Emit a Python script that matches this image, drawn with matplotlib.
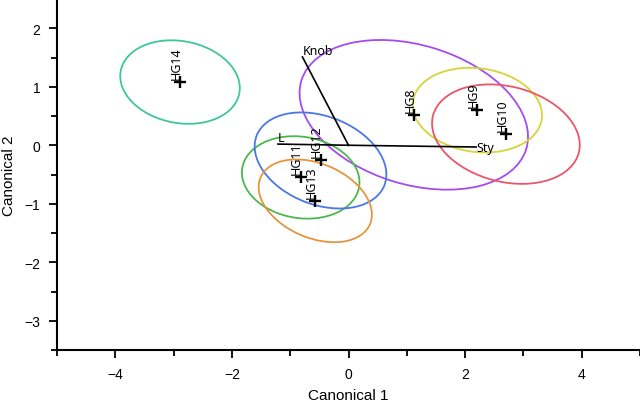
import matplotlib
matplotlib.use("Agg")
import matplotlib.pyplot as plt
from matplotlib.patches import Ellipse

# group means on the canonical axes
groups = ['HG8', 'HG9', 'HG10', 'HG11', 'HG12', 'HG13', 'HG14']
can1 = [1.12, 2.21, 2.70, -0.82, -0.48, -0.57, -2.89]
can2 = [0.52, 0.60, 0.19, -0.55, -0.26, -0.95, 1.08]

# confidence ellipses (full width, full height, tilt in degrees)
ell_w = [4.03, 2.23, 2.58, 2.03, 2.35, 2.04, 2.07]
ell_h = [2.38, 1.43, 1.63, 1.39, 1.51, 1.27, 1.40]
ell_ang = [-16.8, -7.7, -14.0, -8.9, -21.0, -23.0, -10.6]
colors = ['#a44cf0', '#d6d43a', '#e8566c', '#4cb84c', '#4a78e2', '#e8943e', '#3ec69c']

# biplot rays
ray_names = ['Knob', 'Sty', 'L']
ray_x = [-0.79, 2.19, -1.21]
ray_y = [1.51, -0.03, 0.02]

fig = plt.figure(figsize=(6.4, 4.02), dpi=100)
ax = fig.add_axes([57/640, 51/402, 583/640, 351/402])

for i in range(len(groups)):
    e = Ellipse((can1[i], can2[i]), ell_w[i], ell_h[i], angle=ell_ang[i],
                fill=False, edgecolor=colors[i], linewidth=1.3)
    ax.add_patch(e)

ax.plot(can1, can2, 'k+', markersize=8, markeredgewidth=1.7, zorder=5)
for i in range(len(groups)):
    ax.annotate(groups[i], (can1[i], can2[i]), xytext=(-2.9, 2.2),
                textcoords='offset points', rotation=90, ha='center',
                va='bottom', fontsize=9, family='Noto Sans')

for name, rx, ry in zip(ray_names, ray_x, ray_y):
    ax.plot([0, rx], [0, ry], 'k-', linewidth=1.2)
    if name == 'Sty':
        ax.text(rx, ry, name, ha='left', va='center', fontsize=9, family='Noto Sans')
    else:
        ax.text(rx, ry, name, ha='left', va='bottom', fontsize=9, family='Noto Sans')

ax.set_xlim(-5, 5)
ax.set_ylim(-3.5, 2.5)
ax.spines['top'].set_visible(False)
ax.spines['right'].set_visible(False)
ax.spines['left'].set_linewidth(1.5)
ax.spines['bottom'].set_linewidth(1.5)
ax.set_xticks([-4, -2, 0, 2, 4])
ax.set_xticks([-5, -3, -1, 1, 3, 5], minor=True)
ax.set_yticks([-3, -2, -1, 0, 1, 2])
ax.set_yticks([-3.5, -2.5, -1.5, -0.5, 0.5, 1.5, 2.5], minor=True)
ax.set_xticklabels(['\u22124', '\u22122', '0', '2', '4'])
ax.set_yticklabels(['\u22123', '\u22122', '\u22121', '0', '1', '2'])
ax.tick_params(which='major', length=6, width=1.3, pad=6, labelsize=10)
ax.tick_params(which='minor', length=4, width=1.3)
for lab in ax.get_xticklabels() + ax.get_yticklabels():
    lab.set_family('Liberation Sans')

ax.set_xlabel('Canonical 1', fontsize=11, family='Liberation Sans')
ax.set_ylabel('Canonical 2', fontsize=11, family='Liberation Sans')
ax.xaxis.set_label_coords(0.5, -0.108)
ax.yaxis.set_label_coords(-0.071, 0.5)

fig.savefig('out.png', dpi=100)
